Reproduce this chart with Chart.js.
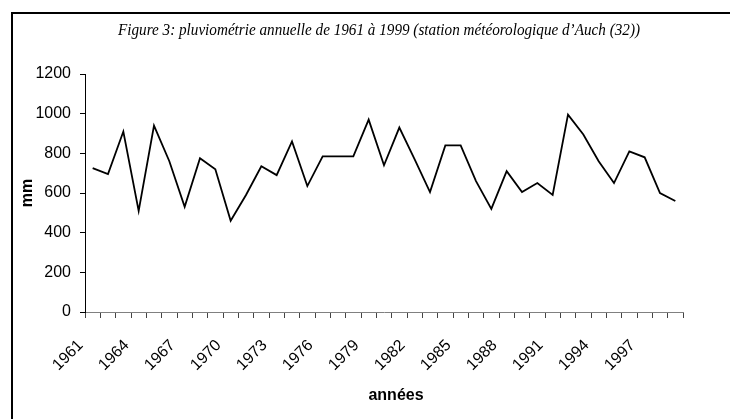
<!DOCTYPE html>
<html>
<head>
<meta charset="utf-8">
<script src="https://cdn.jsdelivr.net/npm/chart.js@4/dist/chart.umd.min.js"></script>
<style>
  html, body { margin: 0; padding: 0; background: #fff; overflow: hidden; }
  #frame {
    position: absolute; left: 11px; top: 12px;
    width: 760px; height: 440px;
    border: 2px solid #000;
  }
  #wrap { position: absolute; left: 0; top: 0; width: 730px; height: 405px; }
</style>
</head>
<body>
<div id="frame">
  <div id="wrap"><canvas id="chart"></canvas></div>
</div>
<script>
// années 1961 à 1999
const years = [];
for (let y = 1961; y <= 1999; y++) years.push(String(y));

// pluviométrie annuelle (mm)
const rainfall = [
  725, 695, 910, 510, 940, 760, 530, 775, 720, 460,
  590, 735, 690, 860, 635, 785, 785, 785, 970, 740,
  930, 770, 605, 840, 840, 660, 520, 710, 605, 650,
  590, 995, 895, 760, 650, 810, 780, 600, 560
];

const yTicks = [0, 200, 400, 600, 800, 1000, 1200];

const titleText = "Figure 3: pluviométrie annuelle de 1961 à 1999 (station météorologique d\u2019Auch (32))";
const xTitle = 'années';

const sans = "'Liberation Sans', Arial, sans-serif";

// titre de la figure et titre de l'axe des x, placés comme sur l'original
const textPlugin = {
  id: 'figureText',
  afterDraw(chart) {
    const ctx = chart.ctx;
    const area = chart.chartArea;
    ctx.save();
    ctx.fillStyle = '#000';
    ctx.textBaseline = 'middle';
    ctx.textAlign = 'center';

    // titre : serif italique étroit
    ctx.font = "italic 17px 'Liberation Serif', 'Times New Roman', serif";
    const w = ctx.measureText(titleText).width;
    const sx = 522 / w;
    ctx.translate(area.left + 294, 17);
    ctx.scale(sx, 1);
    ctx.fillText(titleText, 0, 0);
    ctx.setTransform(1, 0, 0, 1, 0, 0);

    // titre axe x
    ctx.font = 'bold 16px ' + sans;
    ctx.fillText(xTitle, area.left + 311, 382);
    ctx.restore();
  }
};

new Chart(document.getElementById('chart'), {
  type: 'line',
  data: {
    labels: years,
    datasets: [{
      label: 'mm',
      data: rainfall,
      borderColor: '#000',
      borderWidth: 1.8,
      pointRadius: 0,
      tension: 0,
      fill: false
    }]
  },
  options: {
    responsive: true,
    maintainAspectRatio: false,
    animation: false,
    devicePixelRatio: 1,
    layout: { padding: { left: 0, right: 60, top: 60, bottom: 0 } },
    plugins: {
      legend: { display: false },
      tooltip: { enabled: false },
      title: { display: false }
    },
    scales: {
      x: {
        offset: true,
        grid: { offset: true, drawOnChartArea: false, drawTicks: true, tickLength: 6, color: '#444' },
        border: { display: true, color: '#808080', width: 1 },
        ticks: {
          autoSkip: false,
          maxRotation: 45,
          minRotation: 45,
          padding: 18,
          labelOffset: -12,
          color: '#000',
          font: { family: sans, size: 16 },
          callback: function (val, i) { return i % 3 === 0 ? years[i] : ''; }
        },
        afterFit: function (s) { s.height = 107; }
      },
      y: {
        min: 0,
        max: 1200,
        grid: { drawOnChartArea: false, drawTicks: true, tickLength: 5, color: '#000' },
        border: { display: true, color: '#000', width: 1 },
        ticks: {
          stepSize: 200,
          padding: 9,
          color: '#000',
          font: { family: sans, size: 16 },
          callback: function (v) { return yTicks.includes(v) ? String(v) : ''; }
        },
        title: {
          display: true,
          text: 'mm',
          color: '#000',
          font: { family: sans, size: 16, weight: 'bold' },
          padding: { top: 5, bottom: 0 }
        },
        afterFit: function (s) { s.width = 72; }
      }
    }
  },
  plugins: [textPlugin]
});
</script>
</body>
</html>
